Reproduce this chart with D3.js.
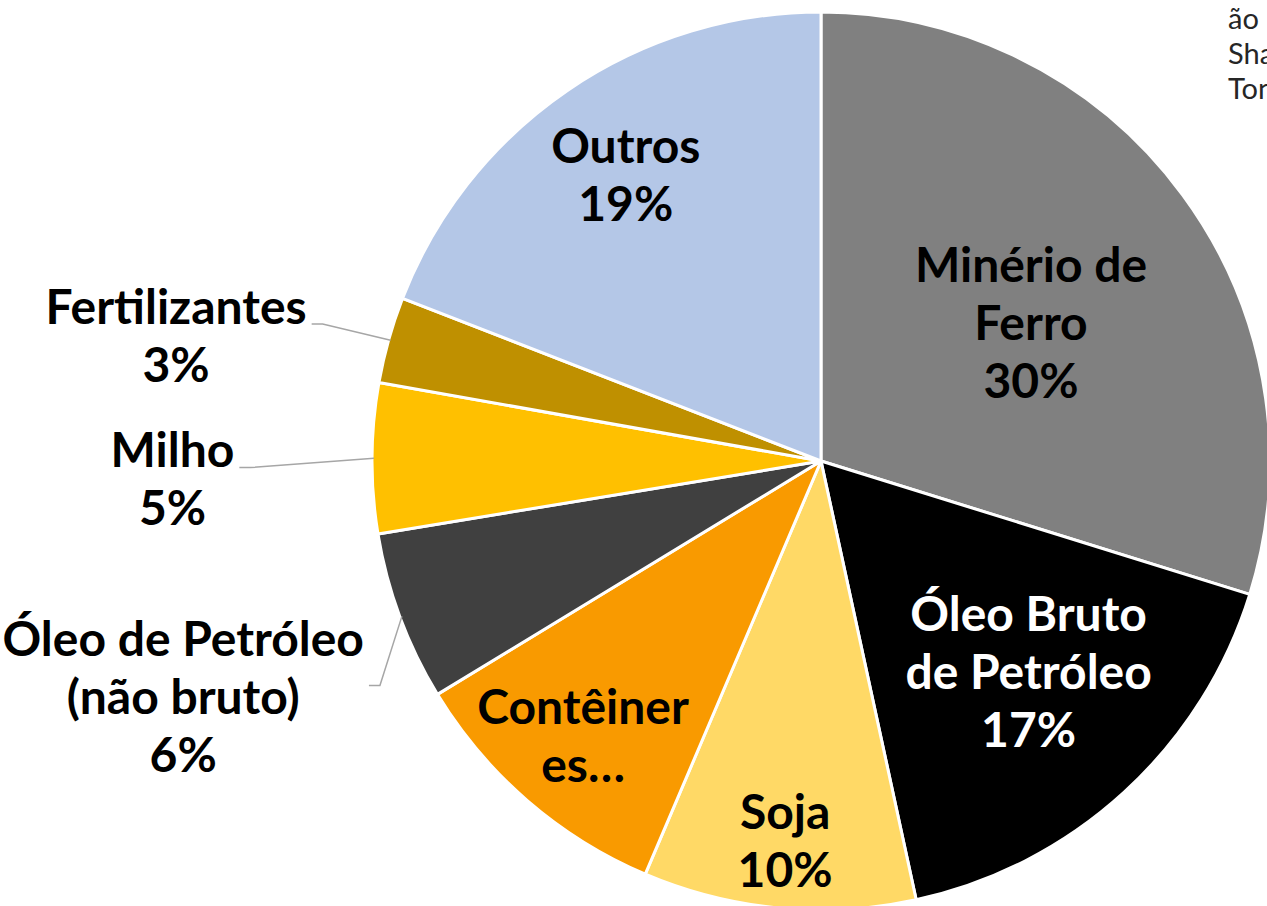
<!DOCTYPE html>
<html>
<head>
<meta charset="utf-8">
<script src="https://cdn.jsdelivr.net/npm/d3@7"></script>
<style>
  html, body { margin: 0; padding: 0; background: #fff; overflow: hidden; }
  svg { display: block; font-family: Lato, 'DejaVu Sans', sans-serif; }
</style>
</head>
<body>
<svg></svg>
<script>
// chart data, clockwise from 12 o'clock
let categories = ['Minério de Ferro', 'Óleo Bruto de Petróleo', 'Soja', 'Contêineres',
                  'Óleo de Petróleo (não bruto)', 'Milho', 'Fertilizantes', 'Outros']
let shares = [29.8, 16.8, 9.8, 9.9, 6.1, 5.4, 3.1, 19.1]
let labelLines = [['Minério de', 'Ferro'], ['Óleo Bruto', 'de Petróleo'], ['Soja'], ['Contêiner', 'es…'],
                  ['Óleo de Petróleo', '(não bruto)'], ['Milho'], ['Fertilizantes'], ['Outros']]
let showPercent = [true, true, true, false, true, true, true, true]
let colors = ['#808080', '#000000', '#FFD966', '#F99A00', '#404040', '#FFC000', '#BF9000', '#B4C7E7']
let labelColors = ['#000', '#fff', '#000', '#000', '#000', '#000', '#000', '#000']
let cornerText = ['ão', 'Sha', 'Ton']

let width = 1267
let height = 906
let cx = 821
let cy = 461
let radius = 449
let fontSize = 48
let lineGap = 58

// label placement: radius as a fraction of the pie radius, angle nudge in degrees
let labelLayout = [
  { r: 0.56, nudge: 3 },
  { r: 0.66, nudge: -2 },
  { r: 0.85, nudge: 0 },
  { r: 0.81, nudge: 0 },
  { r: 1.515, nudge: 0, outside: true },
  { r: 1.445, nudge: -2, outside: true },
  { r: 1.463, nudge: -4.7, outside: true },
  { r: 0.77, nudge: 0 }
]

let rows = categories.map((c, i) => ({
  category: c, value: shares[i], color: colors[i], textColor: labelColors[i],
  lines: labelLines[i], pct: showPercent[i], layout: labelLayout[i]
}))
let total = d3.sum(shares)

let pie = d3.pie()
            .sort(null)
            .value(d => d.value)

let arc = d3.arc()
            .innerRadius(0)
            .outerRadius(radius)

let svg = d3.select('svg')
    .attr('width', width)
    .attr('height', height)

let g = svg.append('g')
    .attr('transform', `translate(${cx}, ${cy})`)

let arcs = pie(rows)

g.selectAll('path')
  .data(arcs)
  .enter()
  .append('path')
    .attr('d', arc)
    .attr('fill', d => d.data.color)
    .attr('stroke', '#fff')
    .attr('stroke-width', 3)
    .attr('stroke-linejoin', 'round')

function polar (angle, r) {
  return [r * Math.sin(angle), -r * Math.cos(angle)]
}

let labels = g.selectAll('g.label')
  .data(arcs)
  .enter()
  .append('g')
    .attr('class', 'label')
    .each(function (d) {
      let mid = (d.startAngle + d.endAngle) / 2 + d.data.layout.nudge * Math.PI / 180
      let [x, y] = polar(mid, d.data.layout.r * radius)
      let lines = d.data.lines.slice()
      if (d.data.pct) lines.push(Math.round(d.data.value / total * 100) + '%')
      let n = lines.length
      let sel = d3.select(this)
      lines.forEach((t, i) => {
        sel.append('text')
            .attr('x', x)
            .attr('y', y + (i - (n - 1) / 2) * lineGap)
            .attr('dy', '0.35em')
            .attr('text-anchor', 'middle')
            .style('font-size', fontSize + 'px')
            .style('font-weight', 700)
            .attr('fill', d.data.textColor)
            .text(t)
      })
      d.labelCenter = [x, y]
    })

// leader lines for the labels outside the pie
labels.filter(d => d.data.layout.outside)
  .each(function (d) {
    let mid = (d.startAngle + d.endAngle) / 2
    let rim = polar(mid, radius - 2)
    let firstLine = d3.select(this).select('text').node().getBBox()
    let startX = firstLine.x + firstLine.width + 5
    let yAttach = d.labelCenter[1] - 12
    g.insert('polyline', 'g.label')
        .attr('points', [[startX, yAttach], [startX + 11, yAttach], rim].map(p => p.join(',')).join(' '))
        .attr('fill', 'none')
        .attr('stroke', '#A6A6A6')
        .attr('stroke-width', 1.5)
  })

svg.selectAll('text.corner')
  .data(cornerText)
  .enter()
  .append('text')
    .attr('class', 'corner')
    .attr('x', 1228)
    .attr('y', (d, i) => 29 + i * 35)
    .style('font-size', '29px')
    .attr('fill', '#262626')
    .text(d => d)
</script>
</body>
</html>
